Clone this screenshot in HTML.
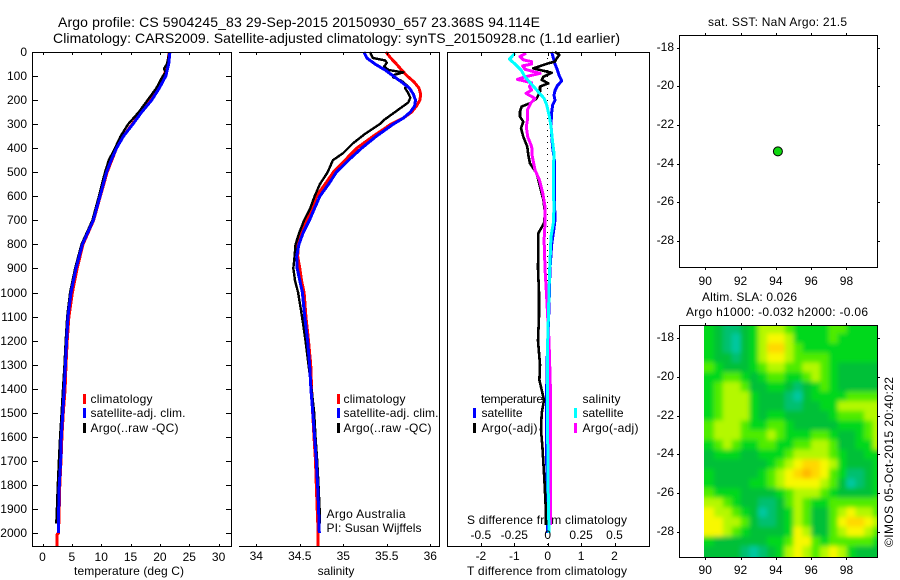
<!DOCTYPE html>
<html lang="en">
<head>
<meta charset="utf-8">
<title>Argo profile 5904245_83</title>
<style>
html,body{margin:0;padding:0;background:#fff;}
body{width:900px;height:580px;overflow:hidden;}
svg{display:block;font-family:"Liberation Sans",sans-serif;font-size:12px;fill:#000;}
text{fill:#000;}
.t14{font-size:14px;}
</style>
</head>
<body>
<svg id="chart" width="900" height="580" viewBox="0 0 900 580">
  <defs>
    <clipPath id="slaClip"><rect x="704" y="325" width="173.5" height="232"></rect></clipPath>
    <filter id="slaBlur" filterUnits="userSpaceOnUse" x="660" y="290" width="240" height="290"><feGaussianBlur stdDeviation="2.5"></feGaussianBlur></filter>
  </defs>
  <text class="t14" x="58" y="27" textLength="482">Argo profile: CS 5904245_83 29-Sep-2015 20150930_657 23.368S 94.114E</text>
  <text class="t14" x="53" y="43" textLength="567">Climatology: CARS2009. Satellite-adjusted climatology: synTS_20150928.nc (1.1d earlier)</text>

  <text x="74" y="575" textLength="110">temperature (deg C)</text>
  <text x="336" y="575" text-anchor="middle">salinity</text>
  <text x="467" y="575" textLength="160">T difference from climatology</text>
  <text x="467" y="524" textLength="160">S difference from climatology</text>

  <text x="708" y="26" textLength="139">sat. SST: NaN Argo: 21.5</text>
  <text x="702" y="301" textLength="95">Altim. SLA: 0.026</text>
  <text x="686" y="316" textLength="182">Argo h1000: -0.032 h2000: -0.06</text>
  <text transform="translate(893,547) rotate(-90)" textLength="170">©IMOS 05-Oct-2015 20:40:22</text>

  <g id="heatLayer" clip-path="url(#slaClip)"><g id="heatCells" filter="url(#slaBlur)"></g></g>
  <g id="seriesLayer"></g>
  <g id="axisLayer"></g>

  <g>
    <rect x="83" y="394" width="3" height="10" fill="#f00"></rect>
    <text x="90.5" y="403" textLength="62">climatology</text>
    <rect x="83" y="408" width="3" height="10" fill="#00f"></rect>
    <text x="90.5" y="417" textLength="95">satellite-adj. clim.</text>
    <rect x="83" y="423" width="3" height="10" fill="#000"></rect>
    <text x="90.5" y="432" textLength="88">Argo(..raw -QC)</text>
  </g>
  <g>
    <rect x="337" y="394" width="3" height="10" fill="#f00"></rect>
    <text x="343.5" y="403" textLength="62">climatology</text>
    <rect x="337" y="408" width="3" height="10" fill="#00f"></rect>
    <text x="343.5" y="417" textLength="95">satellite-adj. clim.</text>
    <rect x="337" y="423" width="3" height="10" fill="#000"></rect>
    <text x="343.5" y="432" textLength="88">Argo(..raw -QC)</text>
    <text x="326.5" y="518" textLength="79">Argo Australia</text>
    <text x="326.5" y="532" textLength="95">PI: Susan Wijffels</text>
  </g>
  <g>
    <text x="481" y="403" textLength="62">temperature</text>
    <text x="582.5" y="403" textLength="38">salinity</text>
    <rect x="473" y="408" width="3" height="10" fill="#00f"></rect>
    <text x="481.5" y="417" textLength="41">satellite</text>
    <rect x="473" y="423" width="3" height="10" fill="#000"></rect>
    <text x="481.5" y="432" textLength="56">Argo(-adj)</text>
    <rect x="574" y="408" width="3" height="10" fill="#0ff"></rect>
    <text x="582.5" y="417" textLength="41">satellite</text>
    <rect x="574" y="423" width="3" height="10" fill="#f0f"></rect>
    <text x="582.5" y="432" textLength="56">Argo(-adj)</text>
  </g>
</svg>

<script>
// ---------- Tick labels ----------
const depthTicks = [0,100,200,300,400,500,600,700,800,900,1000,1100,1200,1300,1400,1500,1600,1700,1800,1900,2000];
const tempTicks = [0,5,10,15,20,25,30];
const salTicks = [34,34.5,35,35.5,36];
const tDiffTicks = [-2,-1,0,1,2];
const sDiffTicks = [-0.5,-0.25,0,0.25,0.5];
const lonTicks = [90,92,94,96,98];
const latTicks = [-18,-20,-22,-24,-26,-28];

// ---------- Temperature panel ----------
const tempDepths = [0,50,100,150,200,250,300,350,400,450,500,600,700,800,900,1000,1100,1200,1300,1400,1500,1600,1700,1800,1900,2000];
const tempClimDepths = [0,50,100,150,200,250,300,350,400,450,500,600,700,800,900,1000,1100,1200,1300,1400,1500,1600,1700,1800,1900,2000,2005,2054];
const tempClim = [21.6,21.3,20.7,19.7,18.4,16.8,15.3,13.8,12.6,11.8,11.0,9.85,8.7,6.9,5.9,5.1,4.5,4.2,4.0,3.85,3.55,3.3,3.15,2.95,2.85,2.72,2.5,2.5];
const tempSat = [21.7,21.5,21.0,19.9,18.6,16.9,15.4,13.8,12.6,11.7,10.9,9.8,8.65,6.8,5.7,4.85,4.35,4.1,3.9,3.7,3.45,3.2,3.1,2.87,2.76,2.7];
const tempArgoDepths = [0,30,50,70,85,100,150,200,250,300,350,400,450,500,600,700,800,900,1000,1100,1200,1300,1400,1500,1600,1700,1800,1900,1960];
const tempArgo = [21.6,21.4,21.2,20.7,21.0,20.5,19.4,17.9,16.4,14.6,13.3,12.35,11.3,10.65,9.6,8.5,6.65,5.55,4.7,4.2,3.95,3.75,3.5,3.25,3.0,2.8,2.6,2.45,2.35];

// ---------- Salinity panel ----------
const salSatDepths = [0,25,50,75,100,125,150,175,200,225,250,275,300,350,400,450,500,550,600,650,700,750,800,850,900,950,1000,1100,1200,1300,1400,1500,1600,1700,1800,1900,2000];
const salSat = [35.238,35.27,35.364,35.48,35.575,35.67,35.76,35.805,35.83,35.82,35.77,35.69,35.575,35.38,35.21,35.06,34.92,34.83,34.73,34.67,34.61,34.54,34.49,34.464,34.47,34.5,34.53,34.556,34.59,34.613,34.628,34.65,34.67,34.69,34.705,34.716,34.724];
const salClimDepths = [0,25,50,75,100,125,150,175,200,225,250,275,300,350,400,450,500,550,600,650,700,750,800,850,900,950,1000,1100,1200,1300,1400,1500,1600,1700,1800,1900,2000,2054];
const salClim = [35.49,35.545,35.61,35.67,35.735,35.815,35.87,35.89,35.88,35.84,35.785,35.69,35.55,35.345,35.154,35.02,34.885,34.79,34.69,34.64,34.58,34.52,34.48,34.476,34.5,34.52,34.55,34.57,34.6,34.625,34.636,34.648,34.663,34.68,34.69,34.7,34.712,34.712];
const salArgoDepths = [0,10,25,35,45,60,75,85,95,105,120,140,150,170,190,210,230,255,285,300,340,380,420,450,500,550,600,650,700,750,800,850,900,950,1000,1100,1200,1300,1400,1500,1600,1700,1800,1900,1960];
const salArgo = [35.307,35.32,35.34,35.48,35.5,35.47,35.52,35.69,35.59,35.575,35.67,35.735,35.71,35.745,35.77,35.747,35.67,35.575,35.46,35.42,35.25,35.11,35.0,34.88,34.82,34.73,34.67,34.62,34.55,34.495,34.45,34.44,34.425,34.445,34.48,34.525,34.565,34.6,34.635,34.665,34.68,34.7,34.715,34.728,34.73];

// ---------- Difference panel ----------
const tDiffSatDepths = [0,50,75,100,120,140,160,180,200,220,250,300,350,400,450,500,600,700,750,800,900,1000,1100,1200,1300,1400,1500,1600,1700,1800,1900,2000];
const tDiffSat = [0.12,0.22,0.29,0.35,0.42,0.29,0.22,0.19,0.22,0.15,0.12,0.1,0.12,0.15,0.2,0.2,0.2,0.22,0.17,0.12,0.07,0.05,0.03,0,-0.02,-0.03,-0.03,-0.03,-0.03,-0.02,-0.01,0];
const tDiffArgoDepths = [0,12,26,40,47,68,86,103,116,130,144,165,193,213,227,248,269,290,317,352,394,428,463,505,560,615,671,712,754,782,900,1000,1100,1200,1300,1364,1447,1502,1571,1641,1780,1917,1967];
const tDiffArgo = [0.22,0.35,0.27,0.22,0.02,-0.43,0.12,-0.13,-0.18,0.02,-0.23,-0.23,-0.33,-0.53,-0.78,-0.83,-0.83,-0.73,-0.8,-0.73,-0.61,-0.58,-0.53,-0.33,-0.23,-0.13,-0.08,-0.11,-0.28,-0.28,-0.29,-0.26,-0.26,-0.29,-0.23,-0.25,-0.11,-0.18,-0.2,-0.16,-0.1,-0.05,-0.05];
const sDiffSatDepths = [5,30,50,75,103,130,158,193,220,269,310,366,421,505,574,643,712,768,900,1000,1100,1200,1400,1600,1800,2000];
const sDiffSat = [-0.245,-0.287,-0.245,-0.2,-0.17,-0.127,-0.082,-0.027,-0.0075,0.0125,0.025,0.035,0.047,0.042,0.042,0.047,0.042,0.025,0.015,0.01,0.005,0,0,0,0.003,0.01];
const sDiffArgoDepths = [5,19,33,40,50,58,72,89,103,114,128,144,158,172,193,213,241,276,310,352,394,435,491,532,588,643,712,782,900,1000,1100,1200,1300,1400,1500,1600,1700,1800,1900,1967];
const sDiffArgo = [-0.162,-0.207,-0.182,-0.12,-0.12,-0.187,-0.17,-0.057,-0.17,-0.227,-0.12,-0.137,-0.12,-0.162,-0.095,-0.127,-0.152,-0.15,-0.16,-0.15,-0.12,-0.115,-0.095,-0.062,-0.037,-0.02,-0.02,-0.027,-0.02,-0.01,0,0.01,0.015,0.02,0.02,0.022,0.022,0.022,0.02,0.02];

// ---------- Float position ----------
const floatLon = [94.114];
const floatLat = [-23.368];

// ---------- SLA heatmap (relative levels) ----------
const heatLons = [90.25,90.75,91.25,91.75,92.25,92.75,93.25,93.75,94.25,94.75,95.25,95.75,96.25,96.75,97.25,97.75,98.25,98.75,99.25,99.75];
const heatLats = [-17.5,-18,-18.5,-19,-19.5,-20,-20.5,-21,-21.5,-22,-22.5,-23,-23.5,-24,-24.5,-25,-25.5,-26,-26.5,-27,-27.5,-28,-28.5,-29];
const heatLevels = [
[0,-1,-2,-2,-1,0,2,2,2,1,0,0,0,0,1,1,0,0,0,0],
[0,-1,-2,-3,-1,0,2,3,3,2,0,0,0,0,1,0,0,0,0,0],
[0,-1,-2,-3,-1,0,2,4,4,2,1,0,0,0,0,0,0,0,0,0],
[0,-1,-1,-2,-1,0,2,3,3,2,1,1,1,1,0,0,0,0,0,0],
[1,0,-1,-1,-1,0,1,2,2,1,1,2,2,1,0,-1,-1,-1,-1,-1],
[0,0,1,1,0,-1,0,1,1,0,0,1,2,1,0,-1,-1,-1,-1,-1],
[0,1,2,2,1,-1,-1,0,0,-1,-2,-1,0,1,0,-1,-1,-1,-1,-1],
[0,1,2,2,2,0,-1,-1,-1,-2,-3,-1,0,0,0,0,1,1,1,1],
[0,1,2,2,2,0,-1,-1,-1,-2,-2,-1,-1,0,0,2,2,2,2,2],
[0,1,2,2,2,0,-1,0,0,-1,-1,-1,-1,-1,0,1,1,1,2,2],
[1,2,2,2,1,0,0,1,1,0,-1,-1,-1,-1,-1,0,0,0,1,2],
[1,2,2,2,1,1,1,2,1,0,0,0,1,1,0,-1,-1,0,1,2],
[0,1,2,1,0,0,1,1,0,0,1,1,2,2,1,-1,-1,0,0,2],
[-1,0,0,0,-1,-1,0,0,0,1,2,2,2,2,1,0,-1,-1,0,0],
[-1,-1,-1,-1,-1,-1,-1,0,1,2,3,4,4,3,2,0,-1,-1,-1,0],
[0,-1,-1,-1,-1,-1,0,1,2,3,4,5,4,3,1,0,-2,-2,-1,0],
[0,-1,-1,-1,-1,0,0,1,2,3,3,3,3,2,1,-1,-3,-2,-1,0],
[1,0,0,0,-1,-1,-1,-1,0,1,2,2,2,1,0,-1,-1,-1,-1,0],
[2,2,1,0,-1,-1,-2,-2,-1,1,2,1,0,0,1,1,1,1,1,1],
[3,2,2,1,0,-1,-3,-2,-1,0,2,1,-1,-1,1,2,3,2,2,1],
[3,3,2,2,1,-1,-2,-2,-1,0,2,1,-1,-1,1,3,4,4,3,2],
[3,3,2,1,0,-1,-1,-1,-1,0,3,2,-1,-1,1,2,3,3,2,1],
[0,-1,-1,-1,-1,-1,-1,0,0,1,3,3,1,0,1,1,1,1,1,0],
[-1,-1,-1,-1,-2,-3,-2,-1,0,2,3,2,1,2,3,2,0,-1,-1,-1]
];

// ---------- Axis functions ----------
function depthY(d){ return 52 + d * 0.2405; }
function tempX(t){ return 42.5 + t * 5.87; }
function salX(s){ return 256.3 + (s - 34) * 87; }
function tDiffX(v){ return 547.7 + v * 33.4; }
function sDiffX(v){ return 547.7 + v * 133.6; }
function lonX(v){ return 705.2 + (v - 90) * 17.66; }
function latTopY(v){ return 47.6 + (-18 - v) * 19.33; }
function latBotY(v){ return 338.3 + (-18 - v) * 19.33; }

const NS = 'http://www.w3.org/2000/svg';
const seriesLayer = document.getElementById('seriesLayer');
const axisLayer = document.getElementById('axisLayer');
const heatCells = document.getElementById('heatCells');

function make(tag, parent, attrs, txt){
  const el = document.createElementNS(NS, tag);
  for (const k in attrs) el.setAttribute(k, attrs[k]);
  if (txt !== undefined) el.textContent = txt;
  parent.appendChild(el);
  return el;
}

function drawLine(name, xs, depths, scaleX, color, width){
  const pts = xs.map(function(v, i){ return scaleX(v).toFixed(1) + ',' + depthY(depths[i]).toFixed(1); }).join(' ');
  const el = make('polyline', seriesLayer, {points: pts, fill: 'none', stroke: color, 'stroke-width': width, 'shape-rendering': 'crispEdges', 'stroke-linejoin': 'round'});
  
  
}

function hLine(parent, name, x1, x2, y){
  const el = make('rect', parent, {x: Math.round(x1), y: Math.round(y), width: Math.round(x2 - x1) + 1, height: 1, fill: '#000'});
  
  
}
function vLine(parent, name, x, y1, y2){
  const el = make('rect', parent, {x: Math.round(x), y: Math.round(y1), width: 1, height: Math.round(y2 - y1) + 1, fill: '#000'});
  
  
}
function label(parent, name, x, y, anchor, txt){
  const el = make('text', parent, {x: x, y: y, 'text-anchor': anchor}, txt);
  
  
}

// ---------- Heatmap ----------
function levelColor(v){
  const palette = {'-3':'#00c8a0','-2':'#00c070','-1':'#00c038','0':'#00d81c','1':'#50ec00','2':'#b4f800','3':'#f8f800','4':'#ffd800','5':'#ffb800'};
  return palette[String(v)];
}
heatLevels.forEach(function(row, r){
  row.forEach(function(v, c){
    const hw = (lonX(1) - lonX(0)) * 0.25;
    const hh = (latBotY(0) - latBotY(1)) * 0.25;
    let x1 = lonX(heatLons[c]) - hw, x2 = lonX(heatLons[c]) + hw;
    let y1 = latBotY(heatLats[r]) - hh, y2 = latBotY(heatLats[r]) + hh;
    if (c === 0) x1 -= 20;
    if (c === row.length - 1) x2 += 20;
    if (r === 0) y1 -= 20;
    if (r === heatLevels.length - 1) y2 += 20;
    const cell = make('rect', heatCells, {x: x1.toFixed(2), y: y1.toFixed(2), width: (x2 - x1 + 0.5).toFixed(2), height: (y2 - y1 + 0.5).toFixed(2), fill: levelColor(v)});
    
    
  });
});

// ---------- Series ----------
drawLine('temperature-climatology-line', tempClim, tempClimDepths, tempX, '#f00', 3);
drawLine('temperature-argo-line', tempArgo, tempArgoDepths, tempX, '#000', 2.4);
drawLine('temperature-satellite-line', tempSat, tempDepths, tempX, '#00f', 3);

drawLine('salinity-climatology-line', salClim, salClimDepths, salX, '#f00', 3);
drawLine('salinity-argo-line', salArgo, salArgoDepths, salX, '#000', 2.4);
drawLine('salinity-satellite-line', salSat, salSatDepths, salX, '#00f', 3);

// Zero reference line for the difference panel
const zeroLine = make('line', seriesLayer, {x1: tDiffX(0), x2: tDiffX(0), y1: 52, y2: 546, stroke: '#000', 'stroke-width': 1, 'stroke-dasharray': '1 5', 'shape-rendering': 'crispEdges'});



drawLine('t-difference-satellite-line', tDiffSat, tDiffSatDepths, tDiffX, '#00f', 3);
drawLine('t-difference-argo-line', tDiffArgo, tDiffArgoDepths, tDiffX, '#000', 2.6);
drawLine('s-difference-argo-line', sDiffArgo, sDiffArgoDepths, sDiffX, '#f0f', 3);
drawLine('s-difference-satellite-line', sDiffSat, sDiffSatDepths, sDiffX, '#0ff', 3);

// ---------- Profile panel frames ----------
const frameTop = 52, frameBot = 546;
// Panel 1
hLine(axisLayer, 'temperature-top-border', 32, 231, frameTop);
hLine(axisLayer, 'temperature-bottom-border', 32, 231, frameBot);
vLine(axisLayer, 'temperature-left-border', 32, frameTop, frameBot);
vLine(axisLayer, 'temperature-right-border', 231, frameTop, frameBot);
depthTicks.forEach(function(d){
  const y = depthY(d);
  hLine(axisLayer, 'depth-tick-left', 32, 37, y);
  hLine(axisLayer, 'depth-tick-right', 226, 231, y);
  label(axisLayer, 'depth-tick-label', 27, Math.round(y) + 4, 'end', String(d));
});
tempTicks.forEach(function(t){
  const x = tempX(t);
  vLine(axisLayer, 'temperature-tick-top', x, frameTop, frameTop + 2);
  vLine(axisLayer, 'temperature-tick-bottom', x, frameBot - 2, frameBot);
  label(axisLayer, 'temperature-tick-label', x, 561, 'middle', String(t));
});
// Panel 2
hLine(axisLayer, 'salinity-top-border', 239, 439, frameTop);
hLine(axisLayer, 'salinity-bottom-border', 239, 439, frameBot);
vLine(axisLayer, 'salinity-right-border', 439, frameTop, frameBot);
salTicks.forEach(function(s){
  const x = salX(s);
  vLine(axisLayer, 'salinity-tick-top', x, frameTop, frameTop + 2);
  vLine(axisLayer, 'salinity-tick-bottom', x, frameBot - 2, frameBot);
  label(axisLayer, 'salinity-tick-label', x, 560, 'middle', String(s));
});
// Panel 3
hLine(axisLayer, 't-difference-top-border', 447, 649, frameTop);
hLine(axisLayer, 't-difference-bottom-border', 447, 649, frameBot);
vLine(axisLayer, 't-difference-left-border', 447, frameTop, frameBot);
vLine(axisLayer, 't-difference-right-border', 649, frameTop, frameBot);
tDiffTicks.forEach(function(v){
  const x = tDiffX(v);
  vLine(axisLayer, 't-difference-tick-top', x, frameTop, frameTop + 3);
  vLine(axisLayer, 't-difference-tick-bottom', x, frameBot - 3, frameBot);
  label(axisLayer, 't-difference-tick-label', x, 560, 'middle', String(v));
});
sDiffTicks.forEach(function(v){
  label(axisLayer, 's-difference-tick-label', sDiffX(v), 539, 'middle', String(v));
});

// ---------- Map frames ----------
function drawMapFrame(prefix, top, bot, scaleY, labelBase){
  hLine(axisLayer, prefix + '-top-border', 679, 877, top);
  hLine(axisLayer, prefix + '-bottom-border', 679, 877, bot);
  vLine(axisLayer, prefix + '-left-border', 679, top, bot);
  vLine(axisLayer, prefix + '-right-border', 877, top, bot);
  lonTicks.forEach(function(v){
    const x = lonX(v);
    vLine(axisLayer, prefix + '-lon-tick-top', x, top - 2, top);
    vLine(axisLayer, prefix + '-lon-tick-bottom', x, bot, bot + 2);
    label(axisLayer, prefix + '-lon-label', x, labelBase, 'middle', String(v));
  });
  latTicks.forEach(function(v){
    const y = scaleY(v);
    hLine(axisLayer, prefix + '-lat-tick-left', 677, 679, y);
    hLine(axisLayer, prefix + '-lat-tick-right', 877, 879, y);
    label(axisLayer, prefix + '-lat-label', 674, Math.round(y) + 3, 'end', String(v));
  });
}
drawMapFrame('sst-map', 35, 267, latTopY, 285);
drawMapFrame('sla-map', 325, 557, latBotY, 574);

// ---------- Float marker ----------
const marker = make('circle', axisLayer, {cx: lonX(floatLon[0]).toFixed(1), cy: latTopY(floatLat[0]).toFixed(1), r: 4.5, fill: '#10d810', stroke: '#000', 'stroke-width': 1});


</script>
</body>
</html>
